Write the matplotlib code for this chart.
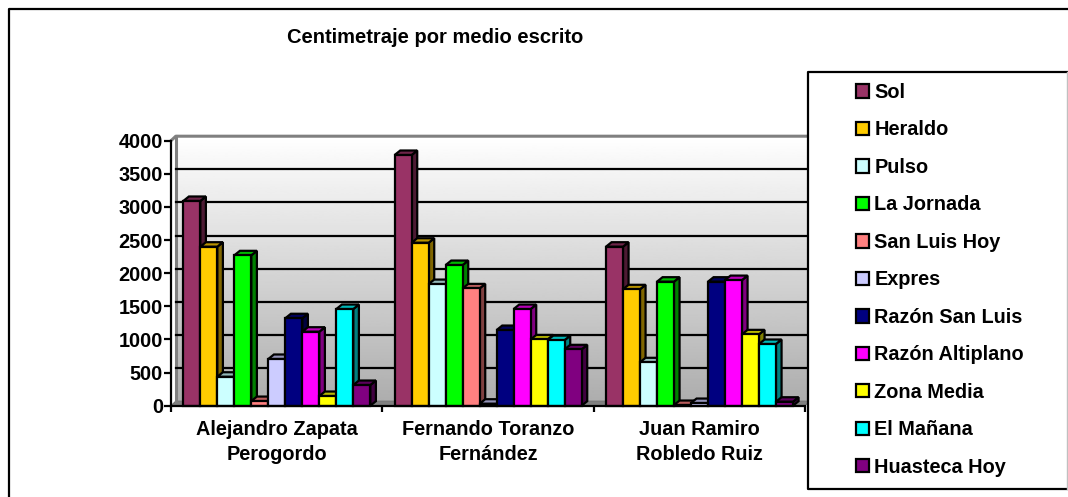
import numpy as np
import matplotlib
matplotlib.use("Agg")
import matplotlib.pyplot as plt
from matplotlib.lines import Line2D
from matplotlib.patches import Patch, Polygon, Rectangle
from matplotlib.colors import to_rgb

plt.rcParams['font.family'] = ['Liberation Sans', 'DejaVu Sans']
plt.rcParams['font.weight'] = 'bold'

title = "Centimetraje por medio escrito"
candidates = ["Alejandro Zapata\nPerogordo", "Fernando Toranzo\nFernández", "Juan Ramiro\nRobledo Ruiz"]
yticks = [0, 500, 1000, 1500, 2000, 2500, 3000, 3500, 4000]

sol = [3090, 3784, 2400]
heraldo = [2400, 2460, 1757]
pulso = [437, 1836, 655]
jornada = [2270, 2123, 1872]
sanluis = [70, 1771, 10]
expres = [705, 30, 40]
razon_sl = [1320, 1142, 1872]
razon_alt = [1117, 1459, 1896]
zona = [146, 1000, 1077]
manana = [1459, 990, 931]
huasteca = [312, 851, 60]

names = ["Sol", "Heraldo", "Pulso", "La Jornada", "San Luis Hoy", "Expres",
         "Razón San Luis", "Razón Altiplano", "Zona Media", "El Mañana", "Huasteca Hoy"]
values = [sol, heraldo, pulso, jornada, sanluis, expres, razon_sl, razon_alt, zona, manana, huasteca]
colors = ["#993366", "#FFCC00", "#CCFFFF", "#00FF00", "#FF8080", "#CCCCFF",
          "#000080", "#FF00FF", "#FFFF00", "#00FFFF", "#800080"]

W, H = 1068, 497
FS = 14.3
fig = plt.figure(figsize=(W / 100, H / 100), dpi=100)

L, R, T, B = 171.0, 805.0, 140.7, 405.7
ax = fig.add_axes([L / W, 1 - B / H, (R - L) / W, (B - T) / H])
ax.set_xlim(-0.5, 2.5)
ax.set_ylim(0, 4000)
ax.patch.set_visible(False)

ux = (R - L) / 3          # px per category
dx = 4.8 / ux             # wall depth in category units
dy = 4.5 * 4000 / (B - T) # depth in value units
bdx = 5.6 / ux            # bar depth in category units

# walls
grad = np.linspace(1.0, 0.68, 256).reshape(-1, 1)
ax.imshow(grad, cmap='gray', vmin=0, vmax=1, aspect='auto', zorder=0,
          extent=(-0.5 + dx, 2.5 + dx, dy, 4000 + dy), clip_on=False)
ax.set_xlim(-0.5, 2.5)
ax.set_ylim(0, 4000)
ax.add_patch(Polygon([(-0.5, 0), (-0.5 + dx, dy), (2.5 + dx, dy), (2.5, 0)],
                     closed=True, fc='#808080', ec='#707070', lw=0.8, zorder=1, clip_on=False))
ax.plot([-0.5 + dx, -0.5 + dx], [dy, 4000 + dy], color='#808080', lw=2.2, zorder=1, clip_on=False)
ax.plot([-0.5, -0.5 + dx, 2.5 + dx], [4000, 4000 + dy, 4000 + dy], color='#808080', lw=2.2,
        zorder=1, clip_on=False)
for v in yticks[1:-1]:
    ax.plot([-0.5 + dx, 2.5 + dx], [v + dy, v + dy], color='black', lw=1.6, zorder=2, clip_on=False)

# bars
bw = 17.0 / ux
start = 12.3 / ux - 0.5
x = np.arange(len(candidates), dtype=float)
for i, (vals, c) in enumerate(zip(values, colors)):
    z = 3 + i
    rgb = np.array(to_rgb(c))
    left = x + start + i * bw
    for xl, v in zip(left, vals):
        side = Polygon([(xl + bw, 0), (xl + bw + bdx, dy), (xl + bw + bdx, v + dy), (xl + bw, v)],
                       closed=True, fc=rgb * 0.5, ec='black', lw=1.6, zorder=z, clip_on=False)
        top = Polygon([(xl, v), (xl + bdx, v + dy), (xl + bw + bdx, v + dy), (xl + bw, v)],
                      closed=True, fc=rgb * 0.72, ec='black', lw=1.6, zorder=z, clip_on=False)
        ax.add_patch(side)
        ax.add_patch(top)
    ax.bar(left, vals, width=bw, align='edge', color=c, edgecolor='black', linewidth=1.6,
           zorder=z + 0.5, clip_on=False)

# axes
for s in ('top', 'right'):
    ax.spines[s].set_visible(False)
for s in ('left', 'bottom'):
    ax.spines[s].set_linewidth(1.6)
    ax.spines[s].set_zorder(20)
ax.set_yticks(yticks)
ax.set_yticklabels([str(v) for v in yticks], fontsize=FS, fontweight='bold')
ax.tick_params(axis='y', length=5, width=1.6, pad=0.8)
ax.set_xticks([-0.5, 0.5, 1.5, 2.5])
ax.set_xticklabels([])
ax.tick_params(axis='x', which='major', length=4, width=1.6)
ax.set_xticks([0.0, 1.0, 2.0], minor=True)
ax.set_xticklabels(candidates, minor=True, fontsize=FS, fontweight='bold', linespacing=1.43)
ax.tick_params(axis='x', which='minor', length=0, pad=10)

fig.text(435 / W, 1 - 37.5 / H, title, ha='center', va='center', fontsize=FS + 0.2, fontweight='bold')

# outer frame
fig.add_artist(Line2D([8.5 / W, 8.5 / W, 1], [0, 1 - 9 / H, 1 - 9 / H], color='black', lw=1.6, zorder=1))

# legend box
fig.add_artist(Rectangle((808 / W, 1 - 489 / H), 259 / W, 417 / H, fc='white', ec='none',
                         transform=fig.transFigure, zorder=4))
fig.add_artist(Line2D([1067 / W, 808 / W, 808 / W, 1], [1 - 72 / H, 1 - 72 / H, 1 - 489 / H, 1 - 489 / H],
                      color='black', lw=1.6, zorder=4.5))
fig.add_artist(Line2D([1067 / W, 1067 / W], [1 - 72 / H, 1 - 489 / H], color='#C0C0C0', lw=1, zorder=4.5))
handles = [Patch(facecolor=c, edgecolor='black', linewidth=1.6) for c in colors]
fig.legend(handles, names, loc='upper left', bbox_to_anchor=(856 / W, 1 - 83 / H),
           frameon=False, fontsize=FS, handlelength=0.66, handleheight=0.66, handletextpad=0.27,
           labelspacing=0.93, borderpad=0, borderaxespad=0)

fig.savefig("out.png", dpi=100)
